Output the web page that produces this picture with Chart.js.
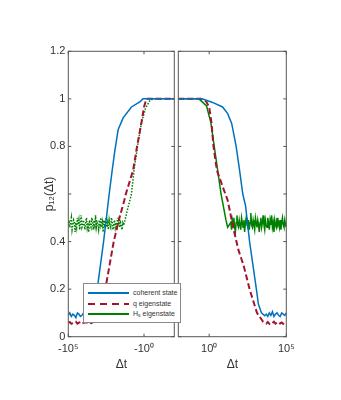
<!DOCTYPE html>
<html lang="en">
<head>
  <meta charset="UTF-8">
  <title>p12(Δt)</title>
  <script src="https://cdn.jsdelivr.net/npm/chart.js"></script>
  <style>
    body { margin: 0; background: #fff; font-family: 'Liberation Sans', Arial, sans-serif; }
    #fig { position: relative; width: 341px; height: 400px; }
    #fig canvas { position: absolute; top: 0; }
    #left { left: 0; }
    #right { left: 177px; }
    .legend { position: absolute; left: 83px; top: 283px; width: 98px; height: 40px; box-sizing: border-box;
              background: #fff; border: 1px solid #8a8a8a; font-size: 7px; color: #333; z-index: 2; }
    .row { position: absolute; left: 0; height: 10px; line-height: 10px; width: 100%; }
    .row span.line { position: absolute; left: 4px; top: 4px; width: 41px; height: 2px; }
    .row span.txt { position: absolute; left: 49px; top: 0; white-space: nowrap; }
    .row sub { font-size: 5px; vertical-align: -1px; }
  </style>
</head>
<body>
  <div id="fig">
    <canvas id="left" width="177" height="400"></canvas>
    <canvas id="right" width="164" height="400"></canvas>
    <div class="legend">
      <div class="row" style="top:4px"><span class="line" style="background:#0072BD;height:1.5px"></span><span class="txt">coherent state</span></div>
      <div class="row" style="top:15px"><span class="line" style="background:repeating-linear-gradient(90deg,#A2142F 0 7px,transparent 7px 12px)"></span><span class="txt">q eigenstate</span></div>
      <div class="row" style="top:25px"><span class="line" style="background:#008000;height:1.5px"></span><span class="txt">H<sub>s</sub> eigenstate</span></div>
    </div>
  </div>

  <script>
    // tick values and labels (0.6 is covered by the y label in the original)
    const yTicks = [0, 0.2, 0.4, 0.6, 0.8, 1, 1.2];
    const yLabels = ['0', '0.2', '0.4', '', '0.8', '1', '1.2'];
    const xTicks = [1, 1e5];
    const xLabelsLeft = ['-10⁰', '-10⁵'];
    const xLabelsRight = ['10⁰', '10⁵'];

    // left panel (negative Δt), x given as log10|Δt|
    const blueLeftLog = [5.0,4.9,4.8,4.7,4.6,4.5,4.4,4.3,4.2,4.1,4.0,3.9,3.8,3.7,3.6,3.5,3.4,3.3,
                         3.2,3.09,2.67,2.3,2.1,1.93,1.71,1.38,0.83,0.28,0.07,-2];
    const blueLeftP = [0.09,0.10,0.085,0.095,0.09,0.08,0.10,0.095,0.085,0.09,0.10,0.08,0.09,0.095,0.085,0.10,0.09,0.095,
                       0.12,0.20,0.40,0.60,0.70,0.78,0.87,0.92,0.966,0.987,1.0,1.0];

    const redLeftLog = [5.0,4.9,4.8,4.7,4.6,4.5,4.4,4.3,4.2,4.1,4.0,3.9,3.8,3.7,3.6,3.5,3.4,
                        3.0,2.75,2.5,2.0,1.62,1.3,1.2,0.72,0.46,0.17,0.0,-0.16,-2];
    const redLeftP = [0.058,0.062,0.054,0.057,0.06,0.063,0.055,0.059,0.061,0.054,0.058,0.06,0.062,0.055,0.059,0.057,0.06,
                      0.09,0.15,0.22,0.40,0.50,0.574,0.60,0.70,0.80,0.90,0.966,1.0,1.0];

    const greenLeftLog = [5.00,4.95,4.90,4.85,4.80,4.75,4.70,4.65,4.60,4.55,4.50,4.45,4.40,4.35,4.30,4.25,4.20,4.15,4.10,4.05,
                          4.00,3.95,3.90,3.85,3.80,3.75,3.70,3.65,3.60,3.55,3.50,3.45,3.40,3.35,3.30,3.25,3.20,3.15,3.10,3.05,
                          3.00,2.95,2.90,2.85,2.80,2.75,2.70,2.65,2.60,2.55,2.50,2.45,2.40,2.35,2.30,2.25,2.20,2.15,2.10,2.05,
                          2.00,1.95,1.90,1.85,1.80,1.75,1.70,1.65,1.60,1.55,1.50,1.45,1.40,
                          1.33,1.07,0.83,0.66,0.43,0.17,-0.1,-0.35,-0.6,-2];
    const greenLeftP = [0.47,0.49,0.46,0.48,0.50,0.45,0.47,0.49,0.48,0.44,0.48,0.46,0.50,0.47,0.49,0.45,0.48,0.51,0.46,0.47,
                        0.49,0.47,0.45,0.48,0.50,0.46,0.48,0.44,0.49,0.47,0.46,0.50,0.48,0.45,0.49,0.47,0.51,0.46,0.48,0.47,
                        0.45,0.49,0.47,0.50,0.46,0.48,0.44,0.49,0.47,0.48,0.50,0.46,0.48,0.45,0.49,0.47,0.46,0.50,0.48,0.45,
                        0.47,0.49,0.46,0.48,0.45,0.50,0.47,0.49,0.46,0.48,0.47,0.45,0.48,
                        0.47,0.54,0.60,0.70,0.80,0.90,0.96,0.99,1.0,1.0];

    // right panel (positive Δt), x given as log10 Δt
    const blueRightLog = [-2,-0.46,0.22,0.87,1.2,1.46,1.75,1.97,2.18,2.36,2.62,2.84,3.06,3.19,3.39,3.6,
                          3.7,3.8,3.9,4.0,4.1,4.2,4.3,4.4,4.5,4.6,4.7,4.8,4.9,5.0];
    const blueRightP = [1,1,0.985,0.966,0.938,0.897,0.8,0.7,0.6,0.55,0.4,0.3,0.2,0.137,0.1,0.088,
                        0.095,0.085,0.10,0.09,0.105,0.085,0.095,0.10,0.09,0.085,0.10,0.095,0.09,0.10];

    const redRightLog = [-2,-0.55,-0.2,0.0,0.15,0.28,0.5,0.66,1.05,1.2,1.42,1.64,1.9,2.23,2.62,3.1,3.5,
                         3.6,3.7,3.8,3.9,4.0,4.1,4.2,4.3,4.4,4.5,4.6,4.7,4.8,4.9,5.0];
    const redRightP = [1,1,0.99,0.966,0.9,0.8,0.7,0.67,0.6,0.574,0.503,0.436,0.364,0.3,0.2,0.1,0.063,
                       0.058,0.055,0.062,0.054,0.06,0.057,0.063,0.055,0.059,0.062,0.056,0.06,0.054,0.061,0.058];

    const greenRightLog = [-2,-0.66,-0.17,0.11,0.33,0.55,0.77,1.09,1.2,1.3,
                           1.40,1.45,1.50,1.55,1.60,1.65,1.70,1.75,1.80,1.85,1.90,1.95,2.00,2.05,2.10,2.15,2.20,2.25,2.30,2.35,
                           2.40,2.45,2.50,2.55,2.60,2.65,2.70,2.75,2.80,2.85,2.90,2.95,3.00,3.05,3.10,3.15,3.20,3.25,3.30,3.35,
                           3.40,3.45,3.50,3.55,3.60,3.65,3.70,3.75,3.80,3.85,3.90,3.95,4.00,4.05,4.10,4.15,4.20,4.25,4.30,4.35,
                           4.40,4.45,4.50,4.55,4.60,4.65,4.70,4.75,4.80,4.85,4.90,4.95,5.00];
    const greenRightP = [1,1,0.97,0.9,0.8,0.7,0.6,0.49,0.46,0.47,
                         0.48,0.45,0.49,0.47,0.50,0.46,0.44,0.48,0.51,0.47,0.46,0.49,0.47,0.45,0.50,0.48,0.46,0.49,0.44,0.48,
                         0.50,0.47,0.46,0.49,0.45,0.48,0.52,0.47,0.46,0.49,0.47,0.45,0.50,0.48,0.46,0.49,0.47,0.44,0.48,0.50,
                         0.46,0.48,0.51,0.47,0.45,0.49,0.47,0.46,0.50,0.48,0.45,0.49,0.47,0.51,0.46,0.48,0.44,0.49,0.47,0.46,
                         0.50,0.47,0.48,0.46,0.49,0.45,0.48,0.50,0.47,0.46,0.49,0.47,0.48];

    const blue = '#0072BD', red = '#A2142F', green = '#008000';
    const axisColor = '#555';
    const font = "'Liberation Sans', Arial, sans-serif";

    const pts = (logs, ps) => logs.map((u, i) => ({ x: Math.pow(10, u), y: ps[i] }));

    // MATLAB-like box with inward ticks
    const frame = {
      id: 'frame',
      afterDatasetsDraw(chart) {
        const { ctx, chartArea: a, scales: { x, y } } = chart;
        ctx.save();
        ctx.strokeStyle = axisColor;
        ctx.lineWidth = 1;
        ctx.strokeRect(a.left, a.top, a.right - a.left, a.bottom - a.top);
        ctx.beginPath();
        yTicks.forEach(v => {
          const py = y.getPixelForValue(v);
          ctx.moveTo(a.left, py); ctx.lineTo(a.left + 3, py);
          ctx.moveTo(a.right, py); ctx.lineTo(a.right - 3, py);
        });
        xTicks.forEach(v => {
          const px = x.getPixelForValue(v);
          ctx.moveTo(px, a.top); ctx.lineTo(px, a.top + 3);
          ctx.moveTo(px, a.bottom); ctx.lineTo(px, a.bottom - 3);
        });
        ctx.stroke();
        ctx.restore();
      }
    };

    function datasets(b, r, g, greenDash) {
      return [
        { label: 'coherent state', data: b, borderColor: blue, borderWidth: 1.5 },
        { label: 'q eigenstate', data: r, borderColor: red, borderWidth: 2, borderDash: [6, 3] },
        { label: 'H eigenstate', data: g, borderColor: green, borderWidth: 1.5, borderDash: greenDash }
      ];
    }

    function xScale(reverse, labels) {
      return {
        type: 'logarithmic',
        reverse: reverse,
        min: 0.01,
        max: 1e5,
        grid: { display: false, drawTicks: false },
        border: { display: false },
        afterBuildTicks: s => { s.ticks = xTicks.map(v => ({ value: v })); },
        afterFit: s => { s.height = 40; },
        ticks: {
          padding: 6,
          autoSkip: false,
          maxRotation: 0,
          color: '#333',
          font: { family: font, size: 11 },
          callback: (v) => labels[xTicks.indexOf(v)]
        },
        title: { display: true, text: 'Δt', color: '#333', font: { family: font, size: 12 }, padding: { top: 0, bottom: 5 } }
      };
    }

    const common = {
      type: 'line',
      plugins: [frame]
    };

    new Chart(document.getElementById('left'), {
      ...common,
      data: { datasets: datasets(pts(blueLeftLog, blueLeftP), pts(redLeftLog, redLeftP), pts(greenLeftLog, greenLeftP), [1.5, 1.5]) },
      options: {
        responsive: false,
        animation: false,
        elements: { point: { radius: 0 }, line: { tension: 0 } },
        layout: { padding: { left: 0, right: 2.7, top: 51.3, bottom: 23.3 } },
        plugins: { legend: { display: false }, tooltip: { enabled: false } },
        scales: {
          x: xScale(true, xLabelsLeft),
          y: {
            min: 0, max: 1.2,
            grid: { display: false, drawTicks: false },
            border: { display: false },
            afterBuildTicks: s => { s.ticks = yTicks.map(v => ({ value: v })); },
            afterFit: s => { s.width = 68.3; },
            ticks: {
              padding: 3,
              color: '#333',
              font: { family: font, size: 11 },
              callback: (v) => yLabels[yTicks.indexOf(v)]
            },
            title: { display: true, text: 'p₁₂(Δt)', color: '#333', font: { family: font, size: 12 }, padding: { top: 42, bottom: 0 } }
          }
        }
      }
    });

    new Chart(document.getElementById('right'), {
      ...common,
      data: { datasets: datasets(pts(blueRightLog, blueRightP), pts(redRightLog, redRightP), pts(greenRightLog, greenRightP), []) },
      options: {
        responsive: false,
        animation: false,
        elements: { point: { radius: 0 }, line: { tension: 0 } },
        layout: { padding: { left: 1.3, right: 54.7, top: 51.3, bottom: 23.3 } },
        plugins: { legend: { display: false }, tooltip: { enabled: false } },
        scales: {
          x: xScale(false, xLabelsRight),
          y: { min: 0, max: 1.2, display: false }
        }
      }
    });
  </script>
</body>
</html>
